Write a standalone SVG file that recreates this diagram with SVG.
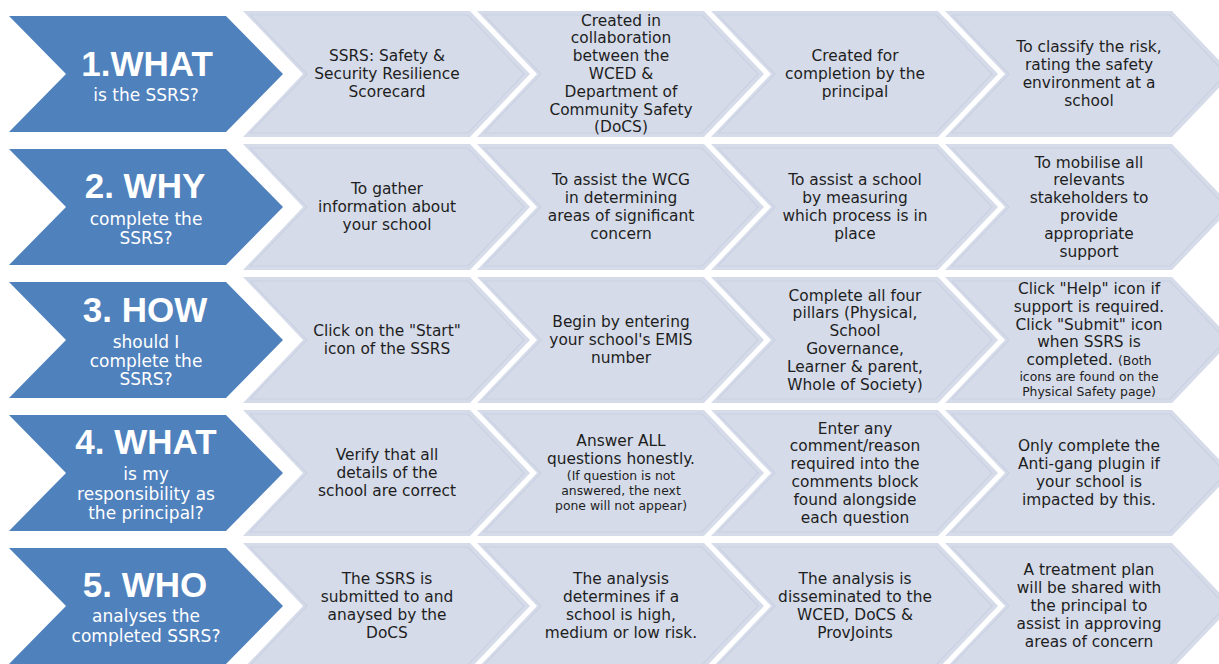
<svg xmlns="http://www.w3.org/2000/svg" xmlns:xlink="http://www.w3.org/1999/xlink" width="1219" height="664" viewBox="0 0 1219 664">
<style>
.lc{fill:#D5DBE9}
.lci{fill:none;stroke:#CAD1E2;stroke-width:1.2}
.bc{fill:#4F81BD}
.h{font-family:"Liberation Sans",Arial,sans-serif;font-weight:bold;font-size:35px;fill:#fff;text-anchor:middle}
.s{font-family:"DejaVu Sans","Liberation Sans",sans-serif;font-size:17px;fill:#fff;text-anchor:middle}
.t{font-family:"DejaVu Sans","Liberation Sans",sans-serif;font-size:15.4px;fill:#1E1E1E;text-anchor:middle}
.sm{font-size:12.4px}
</style>
<defs>
<path id="lchev" d="M0,0 H227 L287,63 L227,126 H0 L60,63 Z"/>
<path id="lchevIn" d="M7,4 H225 L281,63 L225,122 H7 L64,63 Z"/>
<path id="bchev" d="M0,0 H217 L274,58 L217,116 H0 L57,58 Z"/>
</defs>
<rect width="1219" height="664" fill="#fff"/>

<!-- Row 1 -->
<g id="r1-head"><use href="#bchev" class="bc" x="9" y="16"/>
<text class="h" x="147" y="76">1.WHAT</text>
<text class="s" x="146" y="101">is the SSRS?</text></g>
<g id="r1-c1"><use href="#lchev" class="lc" x="243" y="11"/><use href="#lchevIn" class="lci" x="243" y="11"/>
<text class="t" x="387" y="61"><tspan x="387">SSRS: Safety &amp;</tspan><tspan x="387" dy="17.8">Security Resilience</tspan><tspan x="387" dy="17.8">Scorecard</tspan></text></g>
<g id="r1-c2"><use href="#lchev" class="lc" x="477" y="11"/><use href="#lchevIn" class="lci" x="477" y="11"/>
<text class="t" x="621" y="25.6"><tspan x="621">Created in</tspan><tspan x="621" dy="17.8">collaboration</tspan><tspan x="621" dy="17.8">between the</tspan><tspan x="621" dy="17.8">WCED &amp;</tspan><tspan x="621" dy="17.8">Department of</tspan><tspan x="621" dy="17.8">Community Safety</tspan><tspan x="621" dy="17.8">(DoCS)</tspan></text></g>
<g id="r1-c3"><use href="#lchev" class="lc" x="711" y="11"/><use href="#lchevIn" class="lci" x="711" y="11"/>
<text class="t" x="855" y="61"><tspan x="855">Created for</tspan><tspan x="855" dy="17.8">completion by the</tspan><tspan x="855" dy="17.8">principal</tspan></text></g>
<g id="r1-c4"><use href="#lchev" class="lc" x="945" y="11"/><use href="#lchevIn" class="lci" x="945" y="11"/>
<text class="t" x="1089" y="52.3"><tspan x="1089">To classify the risk,</tspan><tspan x="1089" dy="17.8">rating the safety</tspan><tspan x="1089" dy="17.8">environment at a</tspan><tspan x="1089" dy="17.8">school</tspan></text></g>

<!-- Row 2 -->
<g id="r2-head"><use href="#bchev" class="bc" x="9" y="149"/>
<text class="h" x="145" y="198">2. WHY</text>
<text class="s" x="146" y="225"><tspan x="146">complete the</tspan><tspan x="146" dy="18.5">SSRS?</tspan></text></g>
<g id="r2-c1"><use href="#lchev" class="lc" x="243" y="144"/><use href="#lchevIn" class="lci" x="243" y="144"/>
<text class="t" x="387" y="194"><tspan x="387">To gather</tspan><tspan x="387" dy="17.8">information about</tspan><tspan x="387" dy="17.8">your school</tspan></text></g>
<g id="r2-c2"><use href="#lchev" class="lc" x="477" y="144"/><use href="#lchevIn" class="lci" x="477" y="144"/>
<text class="t" x="621" y="185.3"><tspan x="621">To assist the WCG</tspan><tspan x="621" dy="17.8">in determining</tspan><tspan x="621" dy="17.8">areas of significant</tspan><tspan x="621" dy="17.8">concern</tspan></text></g>
<g id="r2-c3"><use href="#lchev" class="lc" x="711" y="144"/><use href="#lchevIn" class="lci" x="711" y="144"/>
<text class="t" x="855" y="185.3"><tspan x="855">To assist a school</tspan><tspan x="855" dy="17.8">by measuring</tspan><tspan x="855" dy="17.8">which process is in</tspan><tspan x="855" dy="17.8">place</tspan></text></g>
<g id="r2-c4"><use href="#lchev" class="lc" x="945" y="144"/><use href="#lchevIn" class="lci" x="945" y="144"/>
<text class="t" x="1089" y="167.5"><tspan x="1089">To mobilise all</tspan><tspan x="1089" dy="17.8">relevants</tspan><tspan x="1089" dy="17.8">stakeholders to</tspan><tspan x="1089" dy="17.8">provide</tspan><tspan x="1089" dy="17.8">appropriate</tspan><tspan x="1089" dy="17.8">support</tspan></text></g>

<!-- Row 3 -->
<g id="r3-head"><use href="#bchev" class="bc" x="9" y="282"/>
<text class="h" x="145" y="322">3. HOW</text>
<text class="s" x="146" y="348"><tspan x="146">should I</tspan><tspan x="146" dy="18.5">complete the</tspan><tspan x="146" dy="18.5">SSRS?</tspan></text></g>
<g id="r3-c1"><use href="#lchev" class="lc" x="243" y="277"/><use href="#lchevIn" class="lci" x="243" y="277"/>
<text class="t" x="387" y="336"><tspan x="387">Click on the "Start"</tspan><tspan x="387" dy="17.8">icon of the SSRS</tspan></text></g>
<g id="r3-c2"><use href="#lchev" class="lc" x="477" y="277"/><use href="#lchevIn" class="lci" x="477" y="277"/>
<text class="t" x="621" y="327"><tspan x="621">Begin by entering</tspan><tspan x="621" dy="17.8">your school's EMIS</tspan><tspan x="621" dy="17.8">number</tspan></text></g>
<g id="r3-c3"><use href="#lchev" class="lc" x="711" y="277"/><use href="#lchevIn" class="lci" x="711" y="277"/>
<text class="t" x="855" y="300.5"><tspan x="855">Complete all four</tspan><tspan x="855" dy="17.8">pillars (Physical,</tspan><tspan x="855" dy="17.8">School</tspan><tspan x="855" dy="17.8">Governance,</tspan><tspan x="855" dy="17.8">Learner &amp; parent,</tspan><tspan x="855" dy="17.8">Whole of Society)</tspan></text></g>
<g id="r3-c4"><use href="#lchev" class="lc" x="945" y="277"/><use href="#lchevIn" class="lci" x="945" y="277"/>
<text class="t" x="1089" y="294"><tspan x="1089">Click "Help" icon if</tspan><tspan x="1089" dy="17.8">support is required.</tspan><tspan x="1089" dy="17.8">Click "Submit" icon</tspan><tspan x="1089" dy="17.8">when SSRS is</tspan><tspan x="1089" dy="17.8">completed. <tspan class="sm">(Both</tspan></tspan><tspan x="1089" dy="16" class="sm">icons are found on the</tspan><tspan x="1089" dy="15" class="sm">Physical Safety page)</tspan></text></g>

<!-- Row 4 -->
<g id="r4-head"><use href="#bchev" class="bc" x="9" y="415"/>
<text class="h" x="146" y="454">4. WHAT</text>
<text class="s" x="146" y="480"><tspan x="146">is my</tspan><tspan x="146" dy="19.5">responsibility as</tspan><tspan x="146" dy="19.5">the principal?</tspan></text></g>
<g id="r4-c1"><use href="#lchev" class="lc" x="243" y="410"/><use href="#lchevIn" class="lci" x="243" y="410"/>
<text class="t" x="387" y="460"><tspan x="387">Verify that all</tspan><tspan x="387" dy="17.8">details of the</tspan><tspan x="387" dy="17.8">school are correct</tspan></text></g>
<g id="r4-c2"><use href="#lchev" class="lc" x="477" y="410"/><use href="#lchevIn" class="lci" x="477" y="410"/>
<text class="t" x="621" y="446"><tspan x="621">Answer ALL</tspan><tspan x="621" dy="17.8">questions honestly.</tspan><tspan x="621" dy="16" class="sm">(If question is not</tspan><tspan x="621" dy="15" class="sm">answered, the next</tspan><tspan x="621" dy="15" class="sm">pone will not appear)</tspan></text></g>
<g id="r4-c3"><use href="#lchev" class="lc" x="711" y="410"/><use href="#lchevIn" class="lci" x="711" y="410"/>
<text class="t" x="855" y="433.5"><tspan x="855">Enter any</tspan><tspan x="855" dy="17.8">comment/reason</tspan><tspan x="855" dy="17.8">required into the</tspan><tspan x="855" dy="17.8">comments block</tspan><tspan x="855" dy="17.8">found alongside</tspan><tspan x="855" dy="17.8">each question</tspan></text></g>
<g id="r4-c4"><use href="#lchev" class="lc" x="945" y="410"/><use href="#lchevIn" class="lci" x="945" y="410"/>
<text class="t" x="1089" y="451.3"><tspan x="1089">Only complete the</tspan><tspan x="1089" dy="17.8">Anti-gang plugin if</tspan><tspan x="1089" dy="17.8">your school is</tspan><tspan x="1089" dy="17.8">impacted by this.</tspan></text></g>

<!-- Row 5 -->
<g id="r5-head"><use href="#bchev" class="bc" x="9" y="548"/>
<text class="h" x="145" y="597">5. WHO</text>
<text class="s" x="146" y="622"><tspan x="146">analyses the</tspan><tspan x="146" dy="20">completed SSRS?</tspan></text></g>
<g id="r5-c1"><use href="#lchev" class="lc" x="243" y="543"/><use href="#lchevIn" class="lci" x="243" y="543"/>
<text class="t" x="387" y="584.3"><tspan x="387">The SSRS is</tspan><tspan x="387" dy="17.8">submitted to and</tspan><tspan x="387" dy="17.8">anaysed by the</tspan><tspan x="387" dy="17.8">DoCS</tspan></text></g>
<g id="r5-c2"><use href="#lchev" class="lc" x="477" y="543"/><use href="#lchevIn" class="lci" x="477" y="543"/>
<text class="t" x="621" y="584.3"><tspan x="621">The analysis</tspan><tspan x="621" dy="17.8">determines if a</tspan><tspan x="621" dy="17.8">school is high,</tspan><tspan x="621" dy="17.8">medium or low risk.</tspan></text></g>
<g id="r5-c3"><use href="#lchev" class="lc" x="711" y="543"/><use href="#lchevIn" class="lci" x="711" y="543"/>
<text class="t" x="855" y="584.3"><tspan x="855">The analysis is</tspan><tspan x="855" dy="17.8">disseminated to the</tspan><tspan x="855" dy="17.8">WCED, DoCS &amp;</tspan><tspan x="855" dy="17.8">ProvJoints</tspan></text></g>
<g id="r5-c4"><use href="#lchev" class="lc" x="945" y="543"/><use href="#lchevIn" class="lci" x="945" y="543"/>
<text class="t" x="1089" y="575.4"><tspan x="1089">A treatment plan</tspan><tspan x="1089" dy="17.8">will be shared with</tspan><tspan x="1089" dy="17.8">the principal to</tspan><tspan x="1089" dy="17.8">assist in approving</tspan><tspan x="1089" dy="17.8">areas of concern</tspan></text></g>
</svg>
